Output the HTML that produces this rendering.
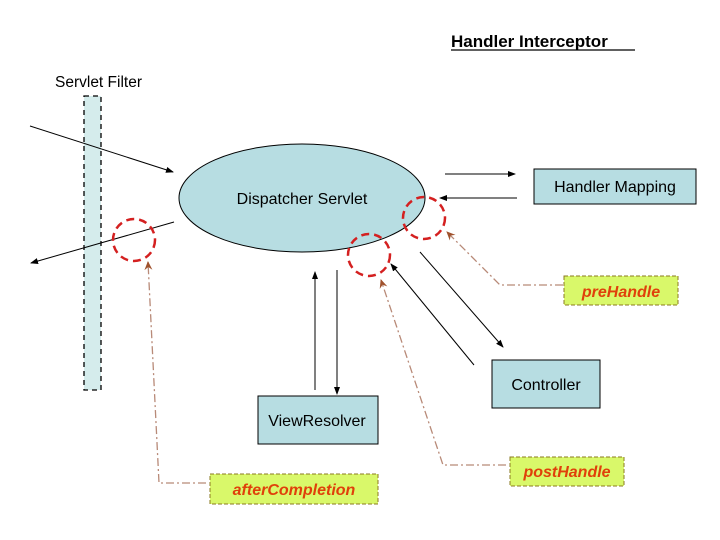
<!DOCTYPE html>
<html><head><meta charset="utf-8"><style>
html,body{margin:0;padding:0;background:#fff;}
svg{display:block;}
text{font-family:"Liberation Sans",sans-serif;}
</style></head><body>
<svg width="720" height="540" viewBox="0 0 720 540" xmlns="http://www.w3.org/2000/svg">
<defs>
<marker id="a" markerWidth="8" markerHeight="8" refX="7" refY="4" orient="auto" markerUnits="userSpaceOnUse"><path d="M0,1 L8,4 L0,7 Z" fill="#000"/></marker>
<marker id="b" markerWidth="10" markerHeight="10" refX="8" refY="5" orient="auto" markerUnits="userSpaceOnUse"><path d="M0,1 L9,5 L0,9 L3,5 Z" fill="#a0522d"/></marker>
</defs>
<rect width="720" height="540" fill="#fff"/>
<text x="451" y="47" font-size="17" font-weight="bold" fill="#000">Handler Interceptor</text>
<line x1="451" y1="50" x2="635" y2="50" stroke="#000" stroke-width="1.3"/>
<text x="55" y="87" font-size="15.5" fill="#000">Servlet Filter</text>
<rect x="84" y="96" width="17" height="294" fill="#d5ecec" stroke="#000" stroke-width="1.3" stroke-dasharray="5,4"/>
<line x1="30" y1="126" x2="173" y2="172" stroke="#000" marker-end="url(#a)"/>
<line x1="174" y1="222" x2="31" y2="263" stroke="#000" marker-end="url(#a)"/>
<ellipse cx="302" cy="198" rx="123" ry="54" fill="#b7dde2" stroke="#000" stroke-width="1"/>
<text x="302" y="204" font-size="16" text-anchor="middle" fill="#000">Dispatcher Servlet</text>
<rect x="534" y="169" width="162" height="35" fill="#b7dde2" stroke="#000"/>
<text x="615" y="192" font-size="16" text-anchor="middle" fill="#000">Handler Mapping</text>
<line x1="445" y1="174" x2="515" y2="174" stroke="#000" marker-end="url(#a)"/>
<line x1="517" y1="198" x2="440" y2="198" stroke="#000" marker-end="url(#a)"/>
<rect x="492" y="360" width="108" height="48" fill="#b7dde2" stroke="#000"/>
<text x="546" y="390" font-size="16" text-anchor="middle" fill="#000">Controller</text>
<line x1="420" y1="252" x2="503" y2="347" stroke="#000" marker-end="url(#a)"/>
<line x1="474" y1="365" x2="391" y2="264" stroke="#000" marker-end="url(#a)"/>
<rect x="258" y="396" width="120" height="48" fill="#b7dde2" stroke="#000"/>
<text x="317" y="426" font-size="16" text-anchor="middle" fill="#000">ViewResolver</text>
<line x1="315" y1="390" x2="315" y2="272" stroke="#000" marker-end="url(#a)"/>
<line x1="337" y1="270" x2="337" y2="394" stroke="#000" marker-end="url(#a)"/>
<g fill="none" stroke="#d42020" stroke-width="2.5" stroke-dasharray="8,5">
<circle cx="134" cy="240" r="21"/>
<circle cx="424" cy="218" r="21"/>
<circle cx="369" cy="255" r="21"/>
</g>
<g fill="none" stroke="#b88a78" stroke-width="1.3" stroke-dasharray="8,3,2,3">
<polyline points="563,285 500,285 447,232" marker-end="url(#b)"/>
<polyline points="506,465 443,465 381,280" marker-end="url(#b)"/>
<polyline points="206,483 159,483 148,262" marker-end="url(#b)"/>
</g>
<g fill="#d9f86a" stroke="#8a7a20" stroke-dasharray="4,2">
<rect x="564" y="276" width="114" height="29"/>
<rect x="510" y="457" width="114" height="29"/>
<rect x="210" y="474" width="168" height="30"/>
</g>
<g font-size="16" font-weight="bold" font-style="italic" fill="#e0400a" text-anchor="middle">
<text x="621" y="297">preHandle</text>
<text x="567" y="477">postHandle</text>
<text x="294" y="495">afterCompletion</text>
</g>
</svg>
</body></html>
